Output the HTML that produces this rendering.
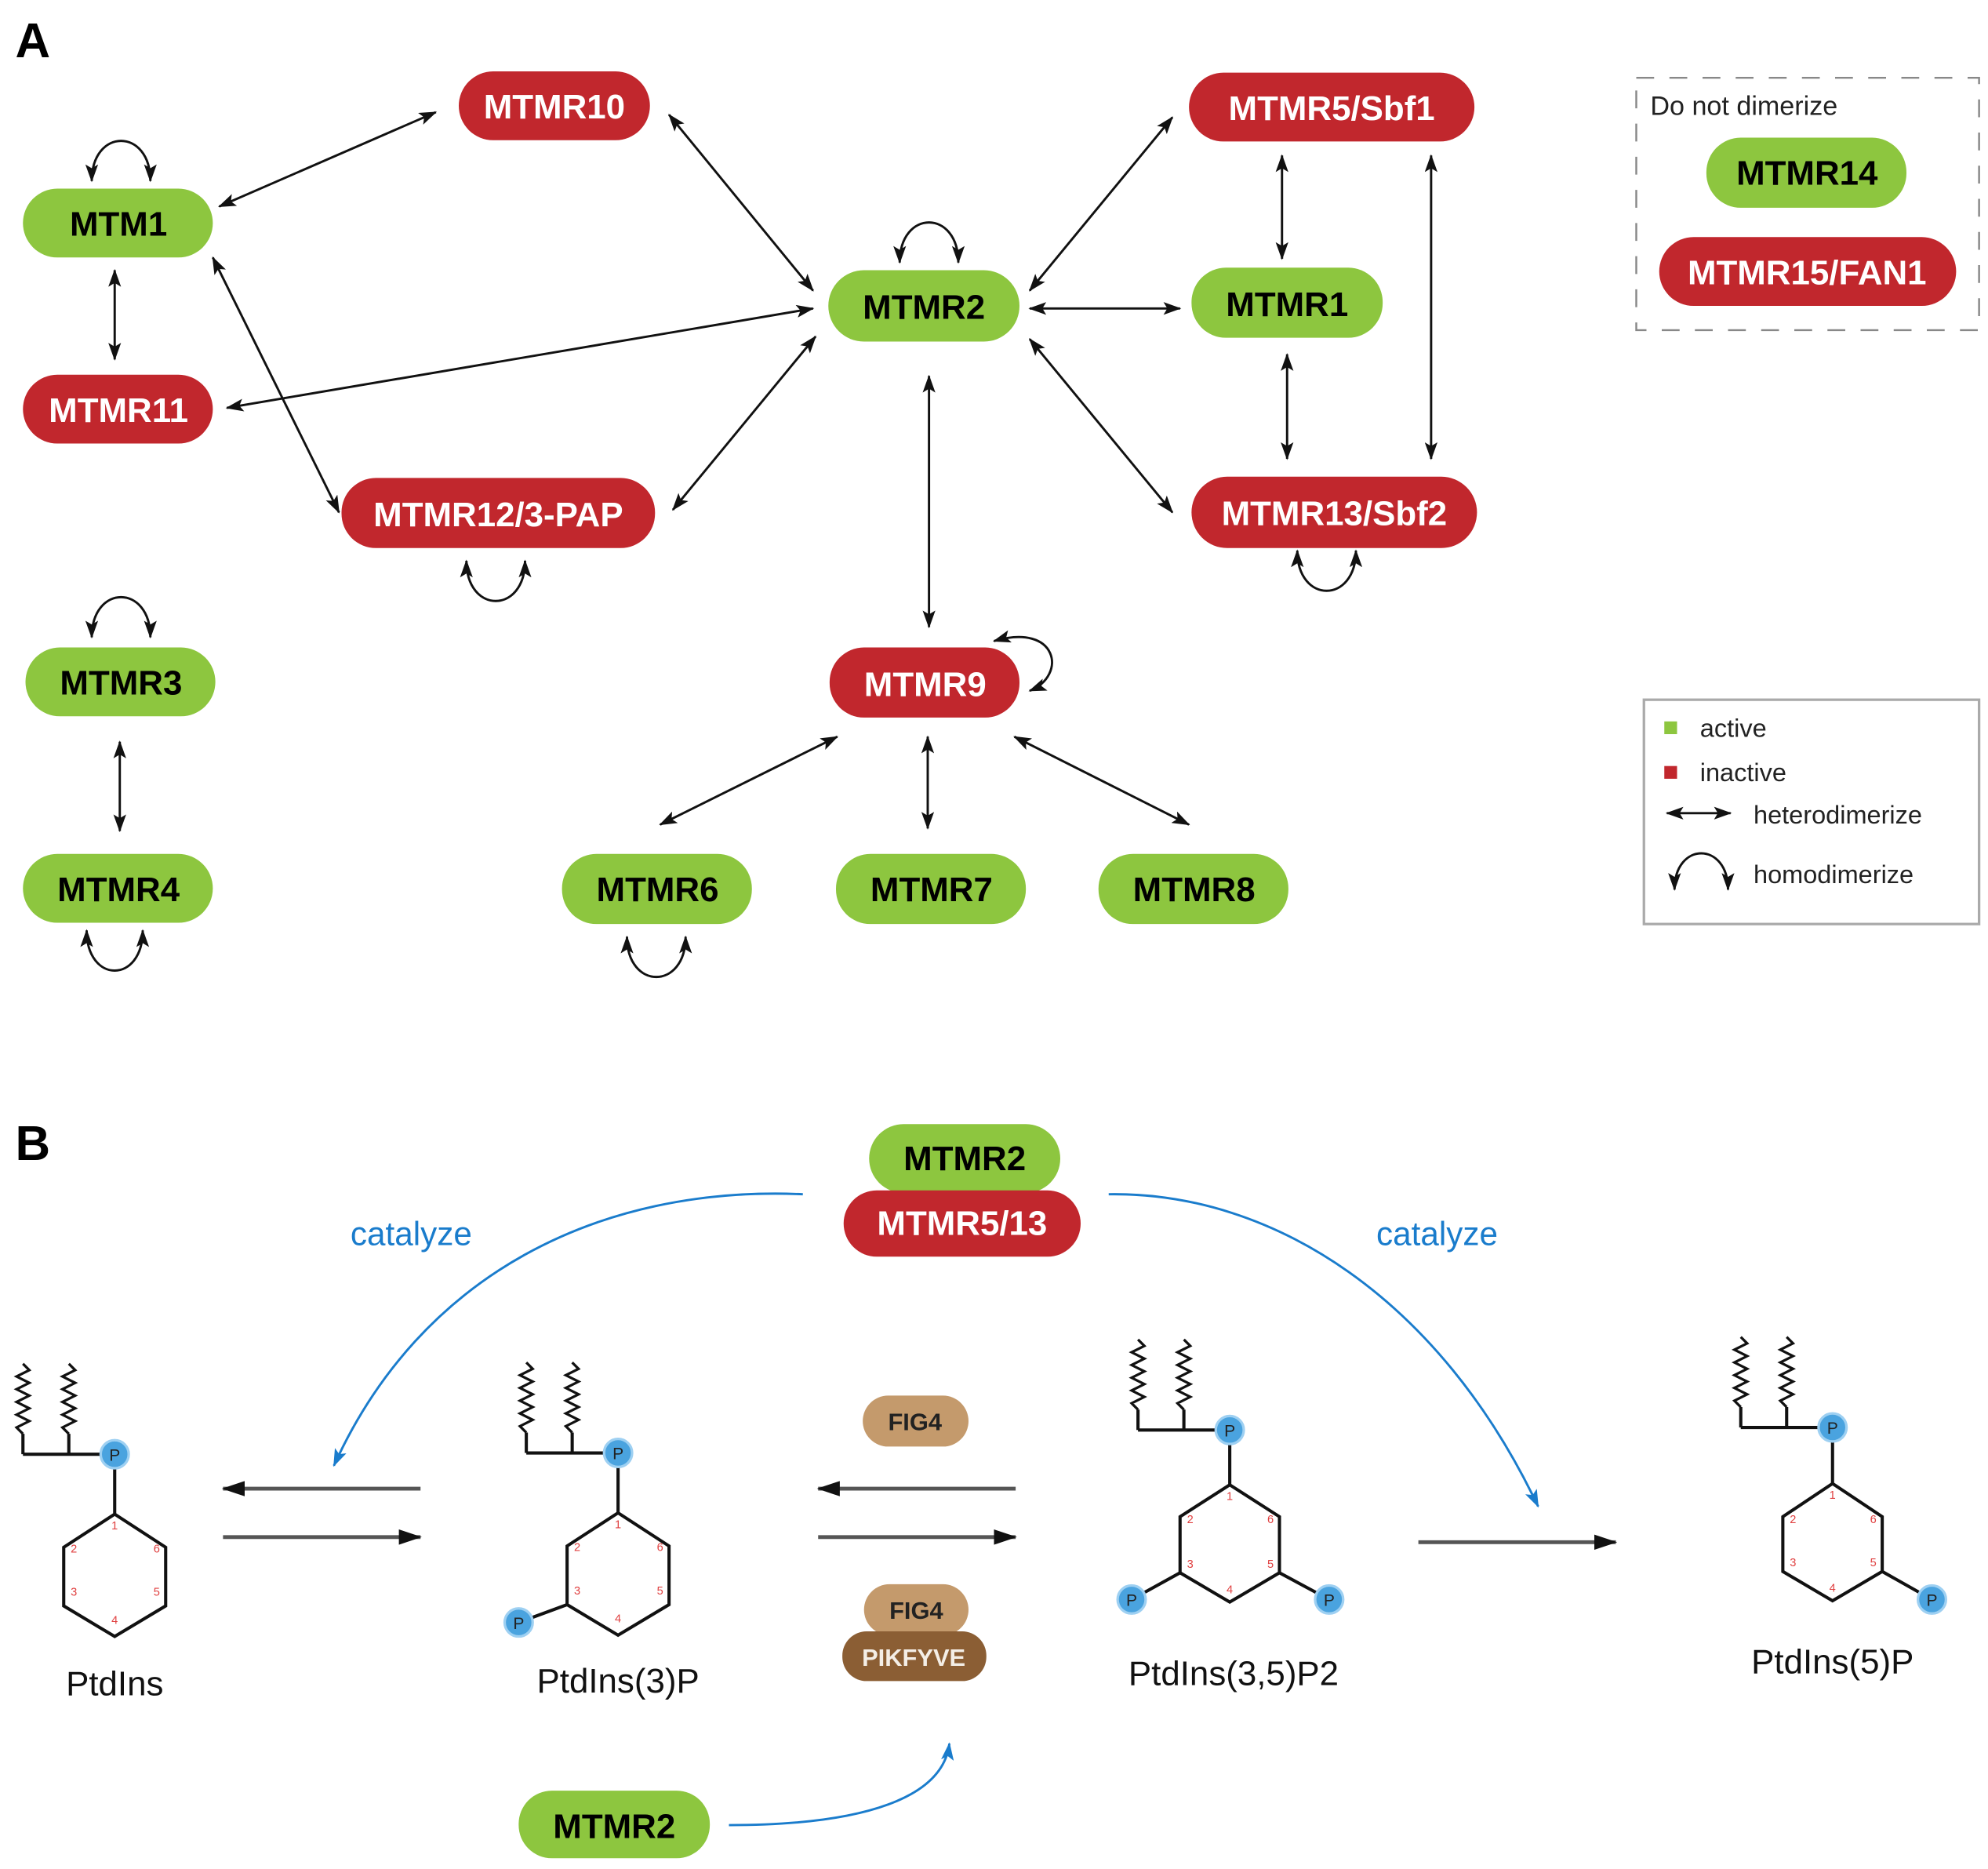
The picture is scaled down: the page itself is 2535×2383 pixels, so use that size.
<!DOCTYPE html>
<html><head><meta charset="utf-8"><style>html,body{margin:0;padding:0;background:#fff}svg{display:block}</style></head><body>
<svg width="2535" height="2383" viewBox="0 0 1560 1466.4" xmlns="http://www.w3.org/2000/svg" font-family="Liberation Sans, Arial, sans-serif">
<defs>
<marker id="a" markerUnits="userSpaceOnUse" markerWidth="14" markerHeight="10" refX="13" refY="5" orient="auto-start-reverse"><path d="M0,0 L14,5 L0,10 L3,5 Z" fill="#111"/></marker>
<marker id="g" markerUnits="userSpaceOnUse" markerWidth="18" markerHeight="12" refX="17" refY="6" orient="auto-start-reverse"><path d="M0,0 L18,6 L0,12 Z" fill="#111"/></marker>
<marker id="b" markerUnits="userSpaceOnUse" markerWidth="14" markerHeight="10" refX="13" refY="5" orient="auto"><path d="M0,0 L14,5 L0,10 L3,5 Z" fill="#1a7ccc"/></marker>
</defs>
<rect width="1560" height="1467" fill="#fff"/>
<text x="12" y="45" font-size="38" font-weight="bold">A</text>
<text x="12" y="910" font-size="38" font-weight="bold">B</text>

<g stroke="#111" stroke-width="1.8" fill="none" marker-start="url(#a)" marker-end="url(#a)">
<line x1="172" y1="162" x2="342" y2="88"/>
<line x1="525" y1="90" x2="638" y2="228"/>
<line x1="90" y1="212" x2="90" y2="282"/>
<line x1="167" y1="202" x2="266" y2="402"/>
<line x1="178" y1="320" x2="638" y2="242"/>
<line x1="528" y1="400" x2="640" y2="264"/>
<line x1="808" y1="228" x2="920" y2="92"/>
<line x1="808" y1="242" x2="926" y2="242"/>
<line x1="808" y1="266" x2="920" y2="402"/>
<line x1="1006" y1="122" x2="1006" y2="203"/>
<line x1="1010" y1="278" x2="1010" y2="360"/>
<line x1="1123" y1="122" x2="1123" y2="360"/>
<line x1="729" y1="295" x2="729" y2="492"/>
<line x1="657" y1="578" x2="518" y2="647"/>
<line x1="728" y1="578" x2="728" y2="650"/>
<line x1="796" y1="578" x2="933" y2="647"/>
<line x1="94" y1="582" x2="94" y2="652"/>
<path d="M72,142 C72,100 118,100 118,142"/>
<path d="M706,206 C706,164 752,164 752,206"/>
<path d="M72,500 C72,458 118,458 118,500"/>
<path d="M366,440 C366,482 412,482 412,440"/>
<path d="M1018,432 C1018,474 1064,474 1064,432"/>
<path d="M68,730 C68,772 112,772 112,730"/>
<path d="M492,735 C492,777 538,777 538,735"/>
<path d="M780,503 C830,488 838,530 808,542"/>
</g>

<g font-size="27" font-weight="bold" text-anchor="middle">
<rect x="18" y="148" width="149" height="54" rx="27" fill="#8dc63f"/><text x="93" y="185">MTM1</text>
<rect x="360" y="56" width="150" height="54" rx="27" fill="#c1272d"/><text x="435" y="93" fill="#fff">MTMR10</text>
<rect x="18" y="294" width="149" height="54" rx="27" fill="#c1272d"/><text x="93" y="331" fill="#fff">MTMR11</text>
<rect x="268" y="375" width="246" height="55" rx="27" fill="#c1272d"/><text x="391" y="413" fill="#fff">MTMR12/3-PAP</text>
<rect x="650" y="212" width="150" height="56" rx="28" fill="#8dc63f"/><text x="725" y="250">MTMR2</text>
<rect x="933" y="57" width="224" height="54" rx="27" fill="#c1272d"/><text x="1045" y="94" fill="#fff">MTMR5/Sbf1</text>
<rect x="935" y="210" width="150" height="55" rx="27" fill="#8dc63f"/><text x="1010" y="248">MTMR1</text>
<rect x="935" y="374" width="224" height="56" rx="28" fill="#c1272d"/><text x="1047" y="412" fill="#fff">MTMR13/Sbf2</text>
<rect x="20" y="508" width="149" height="54" rx="27" fill="#8dc63f"/><text x="95" y="545">MTMR3</text>
<rect x="18" y="670" width="149" height="54" rx="27" fill="#8dc63f"/><text x="93" y="707">MTMR4</text>
<rect x="651" y="508" width="149" height="55" rx="27" fill="#c1272d"/><text x="726" y="546" fill="#fff">MTMR9</text>
<rect x="441" y="670" width="149" height="55" rx="27" fill="#8dc63f"/><text x="516" y="707">MTMR6</text>
<rect x="656" y="670" width="149" height="55" rx="27" fill="#8dc63f"/><text x="731" y="707">MTMR7</text>
<rect x="862" y="670" width="149" height="55" rx="27" fill="#8dc63f"/><text x="937" y="707">MTMR8</text>
<rect x="1339" y="108" width="157" height="55" rx="27" fill="#8dc63f"/><text x="1418" y="145">MTMR14</text>
<rect x="1302" y="186" width="233" height="54" rx="27" fill="#c1272d"/><text x="1418" y="223" fill="#fff">MTMR15/FAN1</text>
</g>
<rect x="1284" y="61" width="269" height="198" fill="none" stroke="#888" stroke-width="1.5" stroke-dasharray="14,12"/>
<text x="1295" y="90" font-size="21" fill="#222">Do not dimerize</text>

<rect x="1290" y="549" width="263" height="176" fill="none" stroke="#aaa" stroke-width="2"/>
<rect x="1306" y="566" width="10" height="10" fill="#8dc63f"/>
<text x="1334" y="578" font-size="20" fill="#222">active</text>
<rect x="1306" y="601" width="10" height="10" fill="#c1272d"/>
<text x="1334" y="613" font-size="20" fill="#222">inactive</text>
<line x1="1308" y1="638" x2="1358" y2="638" stroke="#111" stroke-width="1.8" marker-start="url(#a)" marker-end="url(#a)"/>
<text x="1376" y="646" font-size="20" fill="#222">heterodimerize</text>
<path d="M1314,698 C1314,660 1356,660 1356,698" fill="none" stroke="#111" stroke-width="1.8" marker-start="url(#a)" marker-end="url(#a)"/>
<text x="1376" y="693" font-size="20" fill="#222">homodimerize</text>

<g font-size="27" font-weight="bold" text-anchor="middle">
<rect x="682" y="882" width="150" height="54" rx="27" fill="#8dc63f"/><text x="757" y="918">MTMR2</text>
<rect x="662" y="934" width="186" height="52" rx="26" fill="#c1272d"/><text x="755" y="969" fill="#fff">MTMR5/13</text>
<rect x="407" y="1405" width="150" height="53" rx="26" fill="#8dc63f"/><text x="482" y="1442">MTMR2</text>
</g>
<g font-size="19" font-weight="bold" text-anchor="middle">
<rect x="677" y="1095" width="83" height="40" rx="20" fill="#c49a6c"/><text x="718" y="1122" fill="#222">FIG4</text>
<rect x="678" y="1243" width="82" height="40" rx="20" fill="#c49a6c"/><text x="719" y="1270" fill="#222">FIG4</text>
<rect x="661" y="1280" width="113" height="39" rx="19" fill="#8b5e34"/><text x="717" y="1307" fill="#f4eee6">PIKFYVE</text>
</g>
<g fill="none" stroke="#1a7ccc" stroke-width="1.8" marker-end="url(#b)">
<path d="M630,937 C470,930 330,1000 262,1150"/>
<path d="M870,937 C1000,935 1130,1020 1207,1182"/>
<path d="M572,1432 C680,1432 740,1410 745,1368"/>
</g>
<g font-size="26" fill="#1a7ccc"><text x="275" y="977">catalyze</text><text x="1080" y="977">catalyze</text></g>

<g stroke="#555" stroke-width="3" marker-end="url(#g)">
<line x1="330" y1="1168" x2="175" y2="1168"/>
<line x1="175" y1="1206" x2="330" y2="1206"/>
<line x1="797" y1="1168" x2="642" y2="1168"/>
<line x1="642" y1="1206" x2="797" y2="1206"/>
<line x1="1113" y1="1210" x2="1268" y2="1210"/>
</g>

<g fill="none" stroke="#111" stroke-width="2.5">
<path d="M18,1141 H80 M18,1141 V1125 M54,1141 V1125"/>
<path d="M18,1125 l-5,-5 l10,-5 l-10,-5 l10,-5 l-10,-5 l10,-5 l-10,-5 l10,-5 l-10,-5 l10,-5 l-5,-5 M54,1125 l-5,-5 l10,-5 l-10,-5 l10,-5 l-10,-5 l10,-5 l-10,-5 l10,-5 l-10,-5 l10,-5 l-5,-5" stroke-width="2"/>
<path d="M90,1141 V1188 M90,1188 L130,1214 V1260 L90,1284 L50,1260 V1214 Z"/>
<path d="M413,1140 H475 M413,1140 V1124 M449,1140 V1124"/>
<path d="M413,1124 l-5,-5 l10,-5 l-10,-5 l10,-5 l-10,-5 l10,-5 l-10,-5 l10,-5 l-10,-5 l10,-5 l-5,-5 M449,1124 l-5,-5 l10,-5 l-10,-5 l10,-5 l-10,-5 l10,-5 l-10,-5 l10,-5 l-10,-5 l10,-5 l-5,-5" stroke-width="2"/>
<path d="M485,1140 V1187 M485,1187 L525,1213 V1259 L485,1283 L445,1259 V1213 Z M445,1259 L407,1273"/>
<path d="M893,1122 H955 M893,1122 V1106 M929,1122 V1106"/>
<path d="M893,1106 l-5,-5 l10,-5 l-10,-5 l10,-5 l-10,-5 l10,-5 l-10,-5 l10,-5 l-10,-5 l10,-5 l-5,-5 M929,1106 l-5,-5 l10,-5 l-10,-5 l10,-5 l-10,-5 l10,-5 l-10,-5 l10,-5 l-10,-5 l10,-5 l-5,-5" stroke-width="2"/>
<path d="M965,1122 V1165 M965,1165 L1004,1190 V1234 L965,1257 L926,1234 V1190 Z M926,1234 L888,1255 M1004,1234 L1043,1255"/>
<path d="M1366,1120 H1428 M1366,1120 V1104 M1402,1120 V1104"/>
<path d="M1366,1104 l-5,-5 l10,-5 l-10,-5 l10,-5 l-10,-5 l10,-5 l-10,-5 l10,-5 l-10,-5 l10,-5 l-5,-5 M1402,1104 l-5,-5 l10,-5 l-10,-5 l10,-5 l-10,-5 l10,-5 l-10,-5 l10,-5 l-10,-5 l10,-5 l-5,-5" stroke-width="2"/>
<path d="M1438,1120 V1164 M1438,1164 L1477,1190 V1233 L1438,1256 L1399,1233 V1190 Z M1477,1233 L1516,1255"/>
</g>
<g fill="#4aa3df" stroke="#9ed0f2" stroke-width="2">
<circle cx="90" cy="1141" r="11"/><circle cx="485" cy="1140" r="11"/><circle cx="407" cy="1273" r="11"/>
<circle cx="965" cy="1122" r="11"/><circle cx="888" cy="1255" r="11"/><circle cx="1043" cy="1255" r="11"/>
<circle cx="1438" cy="1120" r="11"/><circle cx="1516" cy="1255" r="11"/>
</g>
<g font-size="13" fill="#222" text-anchor="middle">
<text x="90" y="1146">P</text><text x="485" y="1145">P</text><text x="407" y="1278">P</text>
<text x="965" y="1127">P</text><text x="888" y="1260">P</text><text x="1043" y="1260">P</text>
<text x="1438" y="1125">P</text><text x="1516" y="1260">P</text>
</g>
<g font-size="9" fill="#e04040" text-anchor="middle">
<text x="90" y="1200">1</text><text x="58" y="1218">2</text><text x="58" y="1252">3</text><text x="90" y="1274">4</text><text x="123" y="1252">5</text><text x="123" y="1218">6</text>
<text x="485" y="1199">1</text><text x="453" y="1217">2</text><text x="453" y="1251">3</text><text x="485" y="1273">4</text><text x="518" y="1251">5</text><text x="518" y="1217">6</text>
<text x="965" y="1177">1</text><text x="934" y="1195">2</text><text x="934" y="1230">3</text><text x="965" y="1250">4</text><text x="997" y="1230">5</text><text x="997" y="1195">6</text>
<text x="1438" y="1176">1</text><text x="1407" y="1195">2</text><text x="1407" y="1229">3</text><text x="1438" y="1249">4</text><text x="1470" y="1229">5</text><text x="1470" y="1195">6</text>
</g>
<g font-size="27" fill="#111" text-anchor="middle">
<text x="90" y="1330">PtdIns</text><text x="485" y="1328">PtdIns(3)P</text><text x="968" y="1322">PtdIns(3,5)P2</text><text x="1438" y="1313">PtdIns(5)P</text>
</g>
</svg>
</body></html>
